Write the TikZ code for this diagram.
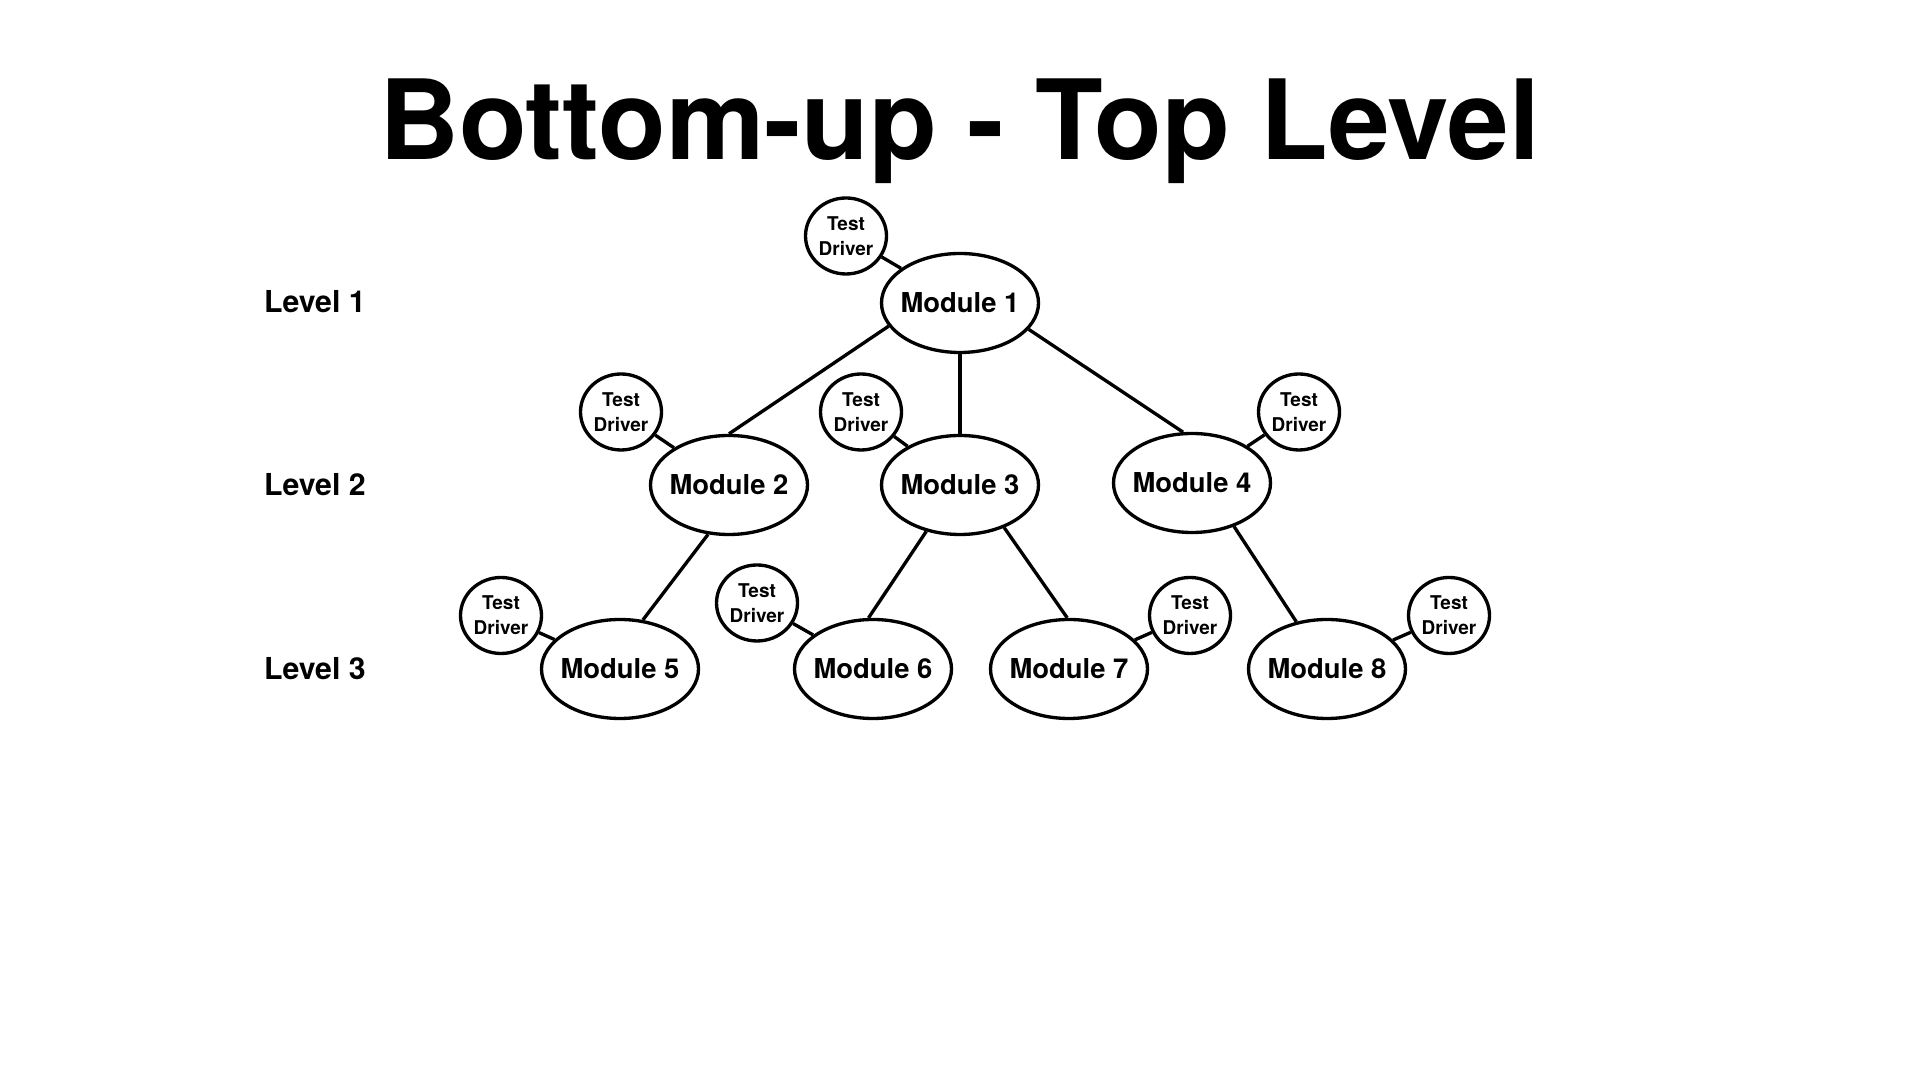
\documentclass[tikz,border=0pt]{standalone}
\usepackage{fontspec}
\setmainfont{TeX Gyre Heros}
\usetikzlibrary{shapes.geometric}

\begin{document}
\begin{tikzpicture}[line width=0.95pt,
  module/.style={draw, ellipse, inner xsep=-2pt, inner ysep=0pt, minimum width=1.57cm, minimum height=0.99cm, font=\fontsize{7.8}{9}\selectfont\bfseries},
  driver/.style={draw, ellipse, inner sep=0pt, minimum width=0.81cm, minimum height=0.76cm, align=center, font=\fontsize{5.4}{7.1}\selectfont\bfseries},
  level/.style={anchor=base west, inner sep=0pt, font=\fontsize{8.6}{10}\selectfont\bfseries}]
\useasboundingbox (0,0) rectangle (19.2,10.8);
\node[anchor=base, font=\fontsize{31.5}{36}\selectfont\bfseries] (title) at (9.595,9.2) {Bottom-up - Top Level};
\node[level] (L1) at (2.625,7.67) {Level 1};
\node[level] (L2) at (2.625,5.84) {Level 2};
\node[level] (L3) at (2.625,4.00) {Level 3};
\node[module] (M1) at (9.60,7.77) {Module 1};
\node[module] (M2) at (7.29,5.95) {Module 2};
\node[module] (M3) at (9.60,5.95) {Module 3};
\node[module] (M4) at (11.92,5.97) {Module 4};
\node[module] (M5) at (6.20,4.11) {Module 5};
\node[module] (M6) at (8.73,4.11) {Module 6};
\node[module] (M7) at (10.69,4.11) {Module 7};
\node[module] (M8) at (13.27,4.11) {Module 8};
\node[driver] (D1) at (8.46,8.44) {Test\\Driver};
\node[driver] (D2) at (6.21,6.68) {Test\\Driver};
\node[driver] (D3) at (8.61,6.68) {Test\\Driver};
\node[driver] (D4) at (12.99,6.68) {Test\\Driver};
\node[driver] (D5) at (5.01,4.645) {Test\\Driver};
\node[driver] (D6) at (7.57,4.77) {Test\\Driver};
\node[driver] (D7) at (11.90,4.645) {Test\\Driver};
\node[driver] (D8) at (14.49,4.645) {Test\\Driver};
\draw (M1.198) -- (M2.north);
\draw (M1.south) -- (M3.north);
\draw (M1.339) -- (M4.100);
\draw (M2.247) -- (M5.65);
\draw (M3.234) -- (M6.95);
\draw (M3.316) -- (M7.92);
\draw (M4.314) -- (M8.123);
\draw (D1) -- (M1);
\draw (D2) -- (M2);
\draw (D3) -- (M3);
\draw (D4) -- (M4);
\draw (D5) -- (M5);
\draw (D6) -- (M6);
\draw (D7) -- (M7);
\draw (D8) -- (M8);
\end{tikzpicture}
\end{document}
